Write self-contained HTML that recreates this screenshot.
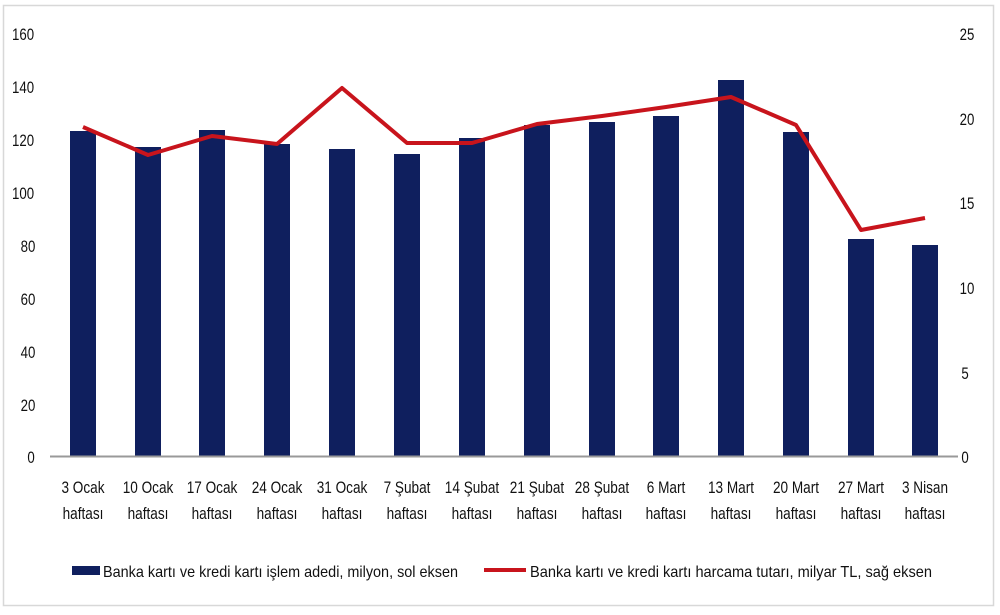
<!DOCTYPE html>
<html><head><meta charset="utf-8"><style>body{margin:0;background:#fff}svg{display:block}</style></head><body>
<svg width="1000" height="615" xmlns="http://www.w3.org/2000/svg" font-family="'Liberation Sans', sans-serif" font-size="17" fill="#111">
<rect x="3.5" y="5.5" width="990" height="600" fill="#fff" stroke="#d8d8d8" stroke-width="1.5"/>
<g text-anchor="middle">
<text transform="translate(23,40) scale(.78,1)">160</text>
<text transform="translate(23,93) scale(.78,1)">140</text>
<text transform="translate(23,146) scale(.78,1)">120</text>
<text transform="translate(23,199) scale(.78,1)">100</text>
<text transform="translate(28,252) scale(.78,1)">80</text>
<text transform="translate(28,305) scale(.78,1)">60</text>
<text transform="translate(28,358) scale(.78,1)">40</text>
<text transform="translate(28,411) scale(.78,1)">20</text>
<text transform="translate(31,463) scale(.78,1)">0</text>
<text transform="translate(967,40) scale(.78,1)">25</text>
<text transform="translate(967,125) scale(.78,1)">20</text>
<text transform="translate(967,209) scale(.78,1)">15</text>
<text transform="translate(967,294) scale(.78,1)">10</text>
<text transform="translate(965,379) scale(.78,1)">5</text>
<text transform="translate(965,463) scale(.78,1)">0</text>
</g>
<g fill="#0f1f5e">
<rect x="70" y="131" width="26" height="325"/><rect x="135" y="147" width="26" height="309"/><rect x="199" y="130" width="26" height="326"/><rect x="264" y="144" width="26" height="312"/><rect x="329" y="149" width="26" height="307"/><rect x="394" y="154" width="26" height="302"/><rect x="459" y="138" width="26" height="318"/><rect x="524" y="125" width="26" height="331"/><rect x="589" y="122" width="26" height="334"/><rect x="653" y="116" width="26" height="340"/><rect x="718" y="80" width="26" height="376"/><rect x="783" y="132" width="26" height="324"/><rect x="848" y="239" width="26" height="217"/><rect x="912" y="245" width="26" height="211"/>
</g>
<line x1="50" y1="456.5" x2="958" y2="456.5" stroke="#999" stroke-width="2"/>
<polyline fill="none" stroke="#c8141c" stroke-width="4" stroke-linejoin="round" points="83,127 148,155 212,136 277,144 342,88 407,143 472,143 537,124 602,116 666,107 731,97 796,125 861,230 925,218"/>
<g text-anchor="middle">
<text transform="translate(83,493) scale(.8,1)">3 Ocak</text><text transform="translate(83,519) scale(.8,1)">haftası</text>
<text transform="translate(148,493) scale(.8,1)">10 Ocak</text><text transform="translate(148,519) scale(.8,1)">haftası</text>
<text transform="translate(212,493) scale(.8,1)">17 Ocak</text><text transform="translate(212,519) scale(.8,1)">haftası</text>
<text transform="translate(277,493) scale(.8,1)">24 Ocak</text><text transform="translate(277,519) scale(.8,1)">haftası</text>
<text transform="translate(342,493) scale(.8,1)">31 Ocak</text><text transform="translate(342,519) scale(.8,1)">haftası</text>
<text transform="translate(407,493) scale(.8,1)">7 Şubat</text><text transform="translate(407,519) scale(.8,1)">haftası</text>
<text transform="translate(472,493) scale(.8,1)">14 Şubat</text><text transform="translate(472,519) scale(.8,1)">haftası</text>
<text transform="translate(537,493) scale(.8,1)">21 Şubat</text><text transform="translate(537,519) scale(.8,1)">haftası</text>
<text transform="translate(602,493) scale(.8,1)">28 Şubat</text><text transform="translate(602,519) scale(.8,1)">haftası</text>
<text transform="translate(666,493) scale(.8,1)">6 Mart</text><text transform="translate(666,519) scale(.8,1)">haftası</text>
<text transform="translate(731,493) scale(.8,1)">13 Mart</text><text transform="translate(731,519) scale(.8,1)">haftası</text>
<text transform="translate(796,493) scale(.8,1)">20 Mart</text><text transform="translate(796,519) scale(.8,1)">haftası</text>
<text transform="translate(861,493) scale(.8,1)">27 Mart</text><text transform="translate(861,519) scale(.8,1)">haftası</text>
<text transform="translate(925,493) scale(.8,1)">3 Nisan</text><text transform="translate(925,519) scale(.8,1)">haftası</text>
</g>
<rect x="72" y="566" width="28" height="9" fill="#0f1f5e"/>
<text x="103" y="577" font-size="16" textLength="355" lengthAdjust="spacingAndGlyphs">Banka kartı ve kredi kartı işlem adedi, milyon, sol eksen</text>
<line x1="484" y1="570" x2="526" y2="570" stroke="#c8141c" stroke-width="4"/>
<text x="530" y="577" font-size="16" textLength="402" lengthAdjust="spacingAndGlyphs">Banka kartı ve kredi kartı harcama tutarı, milyar TL, sağ eksen</text>
</svg>
</body></html>
